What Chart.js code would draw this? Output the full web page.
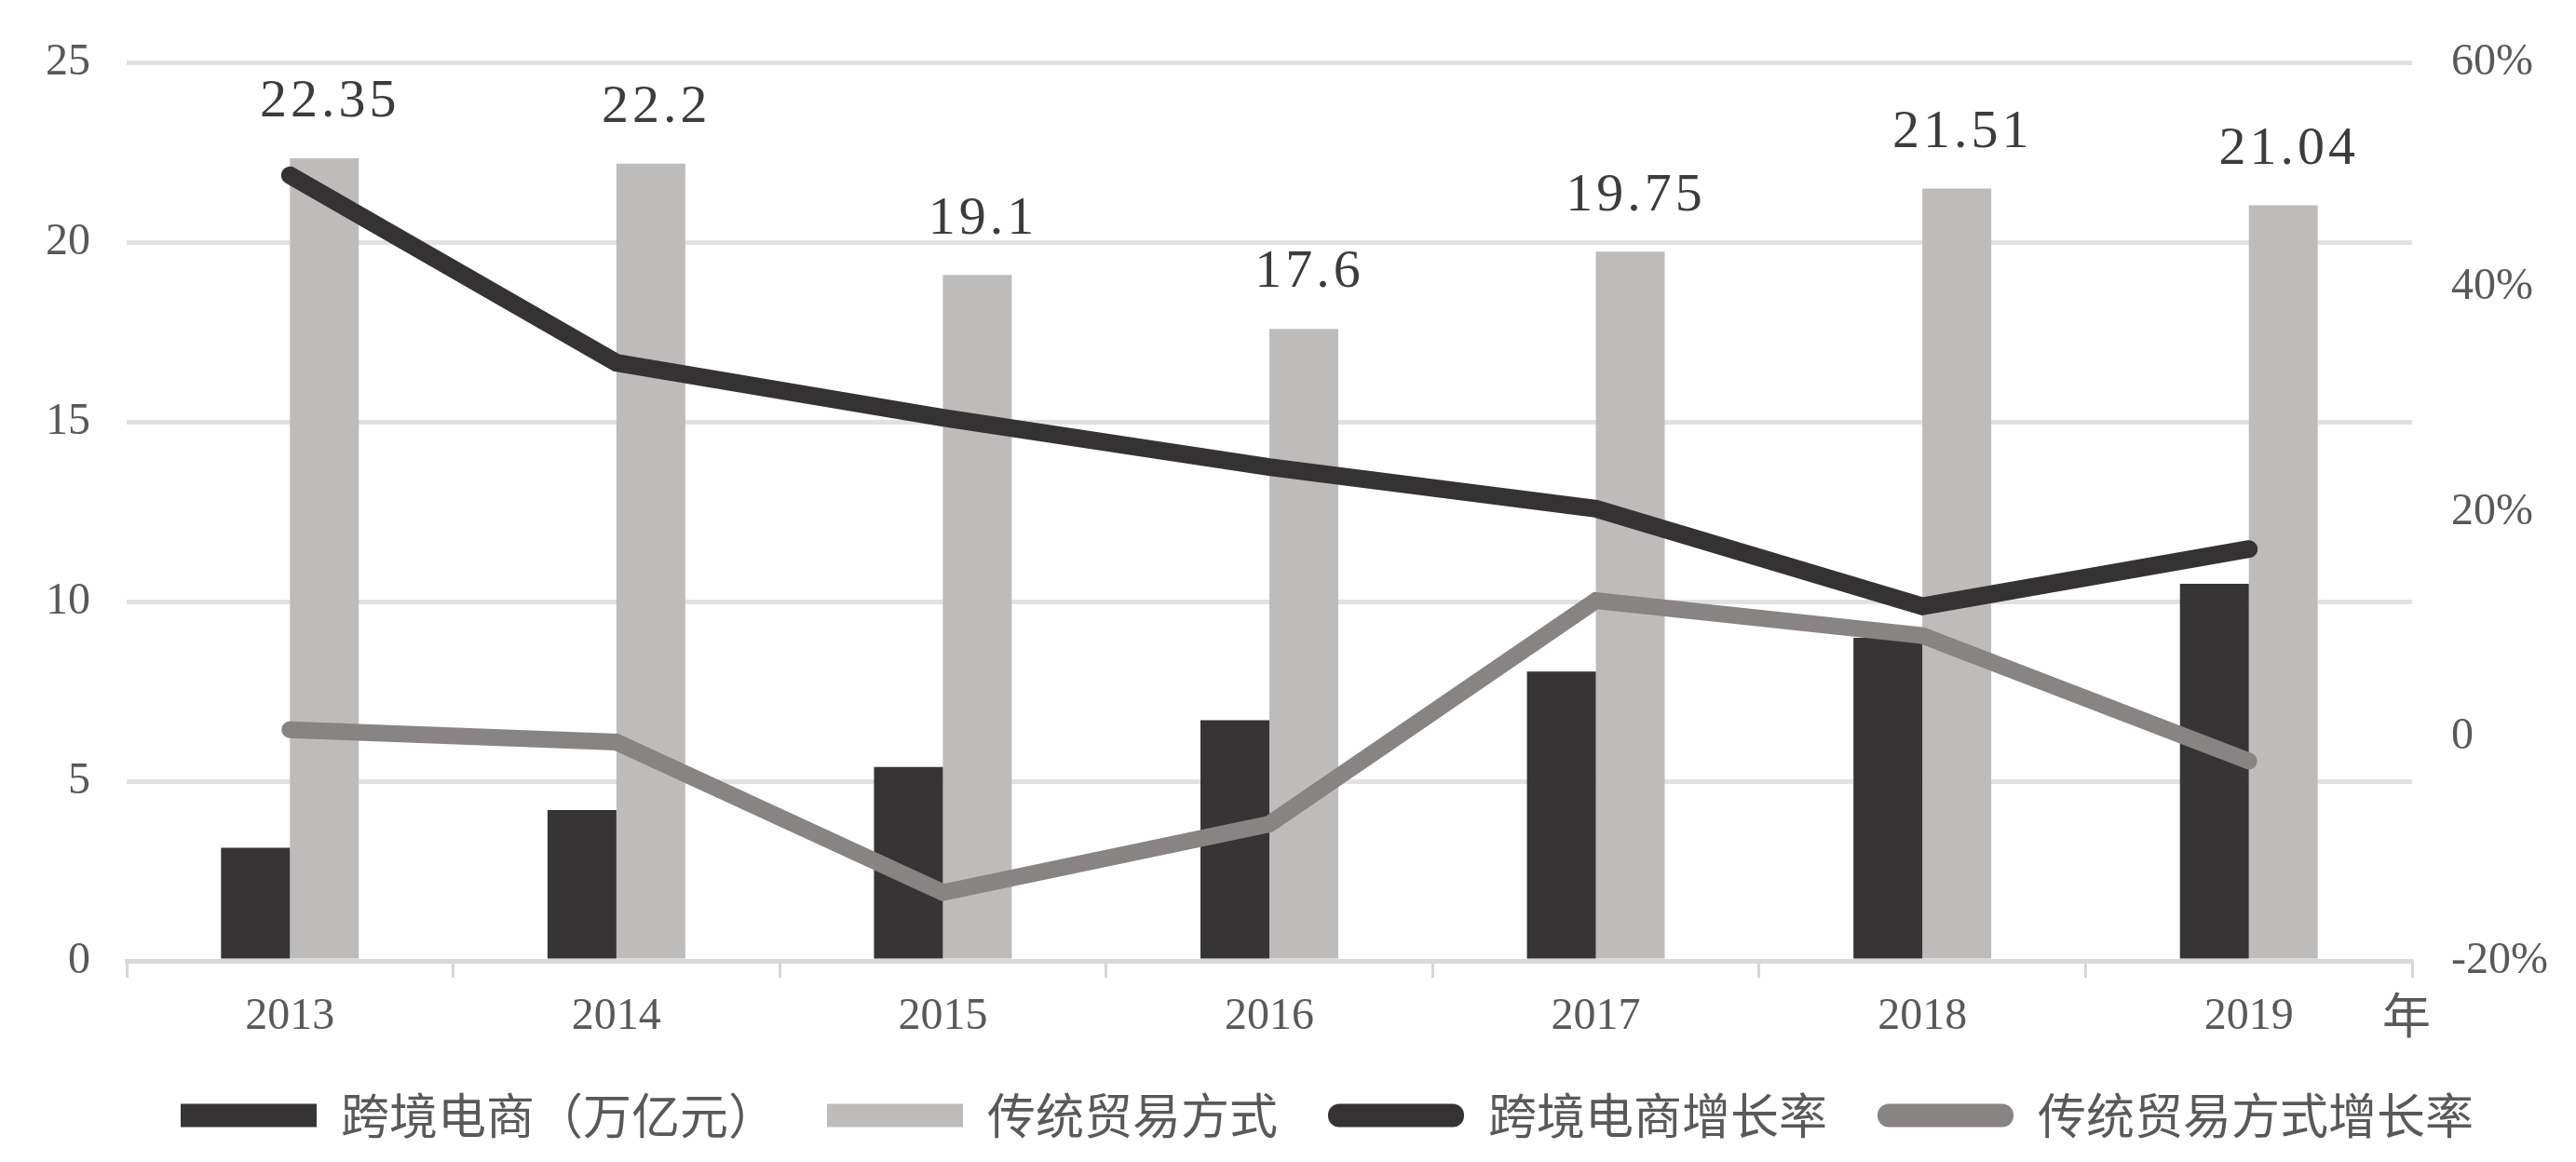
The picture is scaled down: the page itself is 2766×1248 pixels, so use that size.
<!DOCTYPE html>
<html><head><meta charset="utf-8">
<script src="https://cdn.jsdelivr.net/npm/chart.js@4.4.0/dist/chart.umd.min.js"></script>
<style>html,body{margin:0;padding:0;background:#fff;} canvas{display:block;}</style>
</head><body>
<canvas id="c" width="2766" height="1248"></canvas>
<script>
const categories = ['2013','2014','2015','2016','2017','2018','2019'];
const crossBorder = [3.15, 4.2, 5.4, 6.7, 8.06, 9.0, 10.5];
const traditional = [22.35, 22.2, 19.1, 17.6, 19.75, 21.51, 21.04];
const crossBorderGrowth = [50.0, 33.3, 28.4, 24.0, 20.3, 11.6, 16.7];
const traditionalGrowth = [0.6, -0.5, -13.9, -7.8, 12.1, 9.0, -2.2];
const leftTicks = [0, 5, 10, 15, 20, 25];
const rightTicks = [-20, 0, 20, 40, 60];
const seriesNames = ['跨境电商（万亿元）', '传统贸易方式', '跨境电商增长率', '传统贸易方式增长率'];
const axisUnit = '年';

const COL_DARK = '#363434';
const COL_LIGHT = '#bdbcbb';
const COL_LINE_DARK = '#343232';
const COL_LINE_GRAY = '#878483';
const TXT = '#595959';
const SERIF = "'Liberation Serif', 'DejaVu Serif', serif";
const CJK = "'Noto Sans CJK SC', 'Noto Sans', sans-serif";

const labelPlugin = {
  id: 'valueLabels',
  afterUpdate(chart) {
    // nudge the legend block to the right, as in the reference
    const lg = chart.legend;
    if (lg) { lg.left += 42; lg.right += 42; }
  },
  afterDatasetsDraw(chart) {
    const ctx = chart.ctx;
    const meta = chart.getDatasetMeta(1);
    ctx.save();
    ctx.font = `58px ${SERIF}`;
    ctx.fillStyle = '#3c3c3c';
    ctx.textAlign = 'center';
    ctx.textBaseline = 'middle';
    try { ctx.letterSpacing = '4px'; } catch (e) {}
    meta.data.forEach((bar, i) => {
      ctx.fillText(String(traditional[i]), bar.x + 6, bar.y - 60);
    });
    try { ctx.letterSpacing = '0px'; } catch (e) {}
    const xs = chart.scales.x;
    ctx.font = `52px ${CJK}`;
    ctx.fillStyle = TXT;
    ctx.fillText(axisUnit, chart.chartArea.right - 6, xs.top + 58);
    ctx.restore();
  }
};

Chart.defaults.font.family = SERIF;

new Chart(document.getElementById('c'), {
  type: 'bar',
  data: {
    labels: categories,
    datasets: [
      { type: 'bar', label: seriesNames[0], data: crossBorder, backgroundColor: COL_DARK, yAxisID: 'y', order: 2,
        categoryPercentage: 0.422, barPercentage: 1.0 },
      { type: 'bar', label: seriesNames[1], data: traditional, backgroundColor: COL_LIGHT, yAxisID: 'y', order: 2,
        categoryPercentage: 0.422, barPercentage: 1.0 },
      { type: 'line', label: seriesNames[2], data: crossBorderGrowth, borderColor: COL_LINE_DARK, backgroundColor: COL_LINE_DARK,
        borderWidth: 19, pointRadius: 0, tension: 0, borderCapStyle: 'round', borderJoinStyle: 'miter', yAxisID: 'y1', order: 0 },
      { type: 'line', label: seriesNames[3], data: traditionalGrowth, borderColor: COL_LINE_GRAY, backgroundColor: COL_LINE_GRAY,
        borderWidth: 18, pointRadius: 0, tension: 0, borderCapStyle: 'round', borderJoinStyle: 'miter', yAxisID: 'y1', order: 1 }
    ]
  },
  options: {
    responsive: false,
    animation: false,
    devicePixelRatio: 1,
    layout: { padding: { top: 62, bottom: 14, left: 0, right: 0 } },
    plugins: {
      tooltip: { enabled: false },
      legend: {
        position: 'bottom',
        labels: {
          font: { size: 52, family: CJK },
          color: TXT,
          boxWidth: 146,
          boxHeight: 25,
          padding: 54,
          useBorderRadius: true,
          generateLabels(chart) {
            return chart.data.datasets.map((ds, i) => ({
              text: ds.label,
              fillStyle: ds.type === 'line' ? ds.borderColor : ds.backgroundColor,
              strokeStyle: ds.type === 'line' ? ds.borderColor : ds.backgroundColor,
              lineWidth: 0,
              borderRadius: ds.type === 'line' ? 12 : 0,
              fontColor: TXT,
              hidden: false,
              datasetIndex: i
            }));
          }
        }
      }
    },
    scales: {
      x: {
        offset: true,
        grid: { offset: true, drawOnChartArea: false, drawTicks: true, tickLength: 18, color: '#d6d6d6', lineWidth: 3 },
        border: { display: true, color: '#d9d9d9', width: 5 },
        ticks: { color: TXT, font: { size: 48, family: SERIF }, padding: 14, maxRotation: 0 },
        afterFit(s) { s.height = 86; }
      },
      y: {
        position: 'left',
        min: 0, max: 25,
        afterBuildTicks(s) { s.ticks = leftTicks.map(v => ({ value: v })); },
        grid: { color: '#e1e1e1', lineWidth: 5, drawTicks: false },
        border: { display: false },
        ticks: { color: TXT, font: { size: 48, family: SERIF }, padding: 39 },
        afterFit(s) { s.width = 136; }
      },
      y1: {
        position: 'right',
        min: -20, max: 60,
        afterBuildTicks(s) { s.ticks = rightTicks.map(v => ({ value: v })); },
        grid: { display: false, drawOnChartArea: false },
        border: { display: false },
        ticks: { color: TXT, font: { size: 48, family: SERIF }, padding: 34,
          callback: v => v === 0 ? '0' : v + '%' },
        afterFit(s) { s.width = 176; }
      }
    }
  },
  plugins: [labelPlugin]
});
</script>
</body></html>
